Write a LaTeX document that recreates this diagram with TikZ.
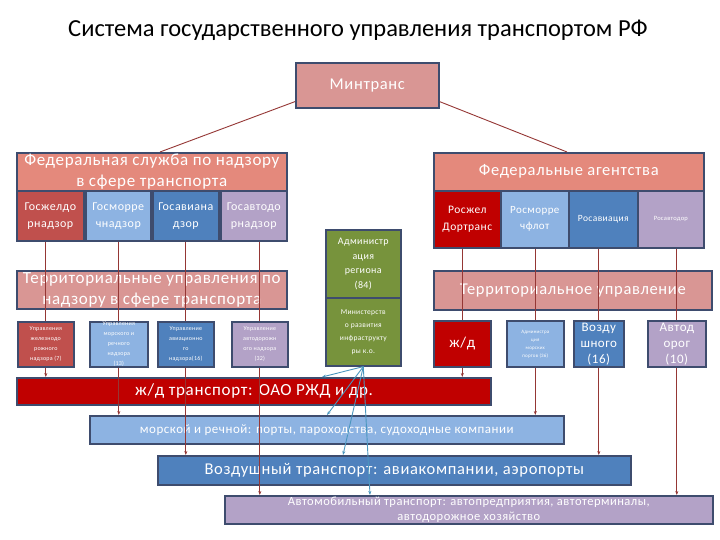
\documentclass[tikz,border=0pt]{standalone}
\usepackage{fontspec}
\setmainfont{Carlito}[LetterSpace=4]
\newfontfamily\titlef{Carlito}
\usetikzlibrary{arrows.meta,calc}
\definecolor{bord}{RGB}{62,76,110}
\definecolor{mtc}{HTML}{D99694}
\definecolor{salm}{HTML}{E4897C}
\definecolor{pinkh}{HTML}{D99694}
\definecolor{redA}{HTML}{C0504D}
\definecolor{dred}{HTML}{C00000}
\definecolor{lblue}{HTML}{8DB3E2}
\definecolor{blueB}{HTML}{4F81BD}
\definecolor{lpurp}{HTML}{B3A2C7}
\definecolor{grn}{HTML}{77933C}
\definecolor{rline}{HTML}{953735}
\definecolor{tline}{HTML}{4A96BE}
\newcommand\fsz[2]{\fontsize{#1}{#2}\selectfont}
\begin{document}
\begin{tikzpicture}[x=1pt,y=-1pt,
  box/.style={draw=bord, line width=1.6pt, inner sep=0pt, anchor=north west, text=white, align=center},
  rl/.style={draw=rline, line width=0.9pt},
  rla/.style={rl, -{Stealth[length=4pt,width=3pt]}},
  tla/.style={draw=tline, line width=0.9pt, -{Stealth[length=4pt,width=3pt]}}
]
\useasboundingbox (0,0) rectangle (720,540);
\fill[white] (0,0) rectangle (720,540);
\node[font=\titlef\fsz{24.5}{28}] (title) at (358,30) {Система государственного управления транспортом РФ};
\node[box, fill=mtc, minimum width=143, minimum height=45, font=\fsz{16.5}{18}] (mt) at (295,62) {Минтранс};
% federal service
\node[box, fill=salm, minimum width=270, minimum height=38, font=\fsz{17}{20.5}] (fs) at (16,152) {Федеральная служба по надзору\\в сфере транспорта};
\node[box, fill=redA, minimum width=67, minimum height=50, font=\fsz{12}{17}] (gzd) at (16,190) {Госжелдо\\рнадзор};
\node[box, fill=lblue, minimum width=65, minimum height=50, font=\fsz{12}{17}] (gmn) at (85,190) {Госморре\\чнадзор};
\node[box, fill=blueB, minimum width=66, minimum height=50, font=\fsz{12}{17}] (gan) at (152,190) {Госавиана\\дзор};
\node[box, fill=lpurp, minimum width=66, minimum height=50, font=\fsz{12}{17}] (gadn) at (220,190) {Госавтодо\\рнадзор};
% federal agencies
\node[box, fill=salm, minimum width=270, minimum height=38, font=\fsz{16.5}{20}] (fa) at (433,152) {Федеральные агентства};
\node[box, fill=dred, minimum width=67, minimum height=57, font=\fsz{11.5}{17}] (rzd) at (433,190) {Росжел\\Дортранс};
\node[box, fill=lblue, minimum width=68, minimum height=57, font=\fsz{11}{16}] (rmf) at (500,190) {Росморре\\чфлот};
\node[box, fill=blueB, minimum width=69, minimum height=57, font=\fsz{9.5}{11}] (rav) at (568,190) {Росавиация};
\node[box, fill=lpurp, minimum width=66, minimum height=57, font=\fsz{6.5}{8}] (rad) at (637,190) {Росавтодор};
% region administration
\node[box, fill=grn, minimum width=75, minimum height=68, font=\fsz{10}{14.5}] (adm) at (325,229) {Администр\\ация\\региона\\(84)};
\node[box, fill=grn, minimum width=75, minimum height=68, font=\fsz{7.5}{13}] (min) at (325,297) {Министерств\\о развития\\инфраструкту\\ры к.о.};
% territorial left
\node[box, fill=pinkh, minimum width=270, minimum height=38, font=\fsz{17}{21}] (tl) at (16,270) {Территориальные управления по\\надзору в сфере транспорта};
\node[box, fill=redA, minimum width=56, minimum height=45, font=\fsz{6}{10}] (tl1) at (17,321) {Управления\\железнодо\\рожного\\надзора (7)};
\node[box, fill=lblue, minimum width=58, minimum height=45, font=\fsz{6}{10}] (tl2) at (89,321) {Управления\\морского и\\речного\\надзора\\(13)};
\node[box, fill=blueB, minimum width=56, minimum height=45, font=\fsz{6}{10}] (tl3) at (157,321) {Управление\\авиационно\\го\\надзора(16)};
\node[box, fill=lpurp, minimum width=56, minimum height=45, font=\fsz{6}{10}] (tl4) at (231,321) {Управление\\автодорожн\\ого надзора\\(32)};
% territorial right
\node[box, fill=pinkh, minimum width=278, minimum height=39, font=\fsz{16.5}{20}] (tr) at (433,270) {Территориальное управление};
\node[box, fill=dred, minimum width=57, minimum height=46, font=\fsz{15}{17}] (r1) at (433,320) {ж/д};
\node[box, fill=lblue, minimum width=57, minimum height=46, font=\fsz{5}{8}] (r2) at (506,320) {Администра\\ция\\морских\\портов (36)};
\node[box, fill=blueB, minimum width=50, minimum height=46, font=\fsz{13}{16}] (r3) at (573,320) {Возду\\шного\\(16)};
\node[box, fill=lpurp, minimum width=58, minimum height=46, font=\fsz{13}{16}] (r4) at (647,320) {Автод\\орог\\(10)};
% bars
\node[box, fill=dred, minimum width=474, minimum height=27] (b1) at (16,377) {};
\node[anchor=west, text=white, inner sep=0pt, font=\fsz{17}{19}] (b1t) at (135,390.5) {ж/д транспорт: ОАО РЖД и др.};
\node[box, fill=lblue, minimum width=474, minimum height=28, font=\fsz{13}{15}] (b2) at (89,415) {морской и речной: порты, пароходства, судоходные компании};
\node[box, fill=blueB, minimum width=473, minimum height=29, font=\fsz{16.5}{18}] (b3) at (157,455) {Воздушный транспорт: авиакомпании, аэропорты};
\node[box, fill=lpurp, minimum width=488, minimum height=28, font=\fsz{12.5}{15.5}] (b4) at (224,495) {Автомобильный транспорт: автопредприятия, автотерминалы,\\автодорожное хозяйство};
% connectors from Минтранс
\draw[rl] ($(mt.south west)+(0,-7)$) -- ($(fs.north west)+(144,0)$);
\draw[rl] ($(mt.south east)+(0,-7)$) -- ($(fa.north west)+(134,0)$);
% left verticals
\draw[rl] (gzd.south -| tl1.north) -- (tl1.north);
\draw[rla] (tl1.south) -- (tl1.south |- b1.north);
\draw[rl] (gmn.south -| tl2.north) -- (tl2.north);
\draw[rla] (tl2.south) -- (tl2.south |- b2.north);
\draw[rl] (gan.south -| tl3.north) -- (tl3.north);
\draw[rla] (tl3.south) -- (tl3.south |- b3.north);
\draw[rl] (gadn.south -| tl4.north) -- (tl4.north);
\draw[rla] (tl4.south) -- (tl4.south |- b4.north);
% right verticals
\draw[rl] (rzd.south -| r1.north) -- (r1.north);
\draw[rla] (r1.south) -- (r1.south |- b1.north);
\draw[rl] (rmf.south -| r2.north) -- (r2.north);
\draw[rla] (r2.south) -- (r2.south |- b2.north);
\draw[rl] (rav.south -| r3.north) -- (r3.north);
\draw[rla] (r3.south) -- (r3.south |- b3.north);
\draw[rl] (rad.south -| r4.north) -- (r4.north);
\draw[rla] (r4.south) -- (r4.south |- b4.north);
% ministry fan
\draw[tla] (min.south) -- ($(b1.north west)+(306,0)$);
\draw[tla] (min.south) -- ($(b2.north west)+(238,0)$);
\draw[tla] (min.south) -- ($(b3.north west)+(186,0)$);
\draw[tla] (min.south) -- ($(b4.north west)+(146,0)$);
\end{tikzpicture}
\end{document}
